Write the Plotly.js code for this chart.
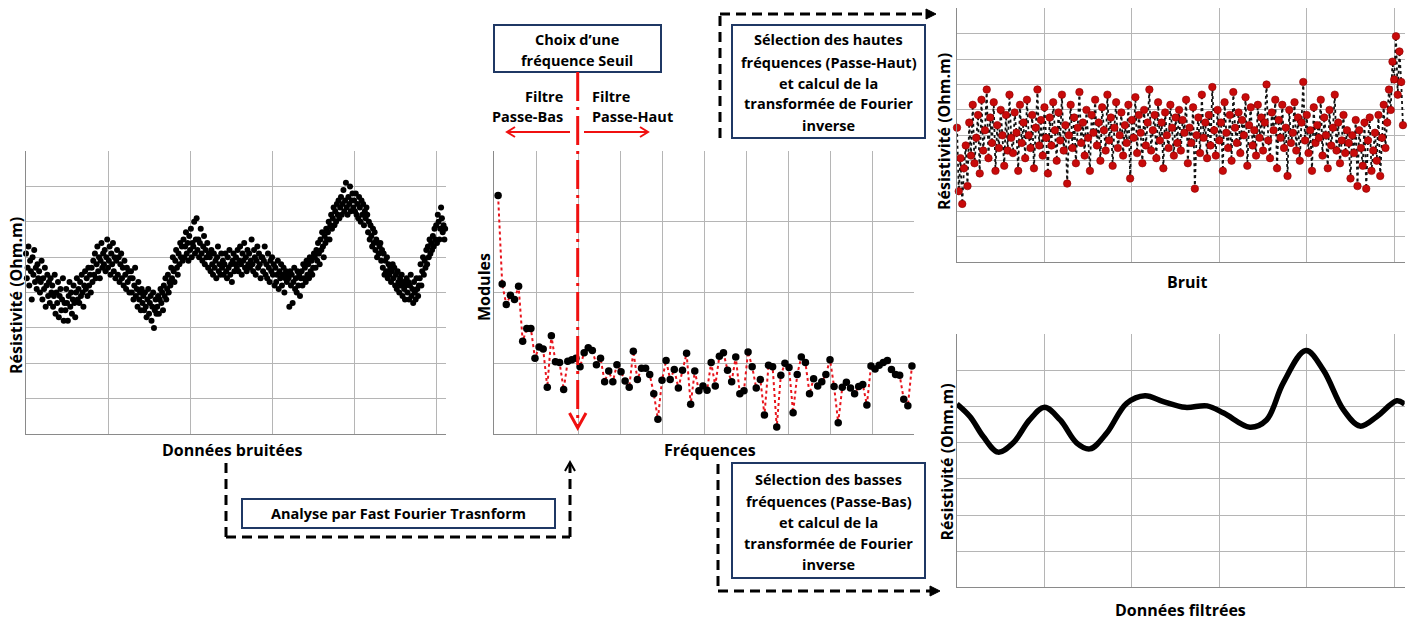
<!DOCTYPE html>
<html><head><meta charset="utf-8">
<script src="https://cdn.plot.ly/plotly-3.0.1.min.js"></script>
<style>html,body{margin:0;padding:0;background:#fff;}#chart{width:1418px;height:621px;}</style>
</head><body><div id="chart"></div>
<script>
// ---- Données bruitées (résistivité x10, index 0..511) ----
const noisyValues = [
51,44,47,53,42,49,46,38,50,45,52,43,47,41,48,44,
46,40,43,49,38,44,41,47,36,42,45,39,43,37,44,40,
42,36,39,45,34,40,37,43,33,39,41,35,38,44,32,37,
35,41,37,32,39,43,36,40,34,38,42,37,33,40,44,38,
41,37,43,39,45,40,36,42,46,41,44,39,47,42,45,40,
47,43,49,45,51,44,48,53,46,50,44,49,54,47,51,48,
52,46,50,55,47,49,53,45,51,48,54,46,50,44,49,52,
45,50,43,48,51,44,47,42,49,45,41,47,43,46,40,44,
46,40,44,38,42,47,39,41,36,43,38,40,35,41,37,39,
35,40,36,33,38,41,34,37,39,32,36,40,30,35,38,34,
36,39,34,38,41,37,40,35,42,39,44,38,41,45,40,43,
42,47,44,50,46,43,49,52,47,45,51,48,54,50,53,49,
55,50,53,57,51,54,49,56,52,58,50,54,53,60,51,55,
61,52,55,50,54,58,51,49,53,56,48,52,50,54,47,51,
50,46,52,48,45,51,47,49,44,50,53,46,48,45,51,47,
49,45,48,51,46,44,50,47,52,45,48,43,49,51,46,48,
50,47,52,46,49,53,48,45,51,49,54,47,50,46,52,48,
51,47,49,55,48,46,52,50,45,49,53,47,51,48,44,50,
50,46,49,53,45,48,44,51,47,43,49,46,50,45,48,42,
47,43,45,49,41,46,44,48,42,45,47,40,44,46,43,45,
44,36,46,42,45,37,43,47,41,44,40,46,42,45,39,44,
46,42,48,44,47,43,49,45,48,44,50,46,49,45,47,51,
50,47,52,49,54,51,48,55,52,57,53,50,56,54,58,55,
57,60,55,59,62,58,61,64,59,63,60,65,62,66,61,64,
67,62,65,69,63,66,71,64,62,67,65,70,63,66,68,64,
66,63,68,62,65,61,67,64,60,66,62,65,59,63,61,64,
62,57,60,55,59,56,53,58,54,57,52,55,50,54,51,53,
54,49,52,47,51,45,49,46,50,44,48,45,47,43,46,48,
44,47,42,45,41,46,43,40,44,42,45,39,43,41,38,42,
44,40,43,38,42,45,39,41,37,43,40,38,44,41,39,42,
44,48,42,46,50,45,49,47,52,48,53,50,55,51,54,52,
56,53,58,55,59,54,62,60,55,58,64,61,57,59,55,58
];

// ---- Modules FFT (index 1..102) ----
const moduleValues = [
3.37,2.12,1.83,1.96,1.90,2.09,1.31,1.49,1.49,1.07,1.23,1.20,0.66,1.39,1.02,1.01,0.63,1.03,1.05,1.07,
0.95,1.15,1.22,1.18,0.98,1.07,0.74,0.89,0.74,0.98,0.88,0.75,0.66,1.17,0.77,0.93,0.93,0.84,0.57,0.21,
0.76,1.04,0.77,0.91,0.65,0.90,1.14,0.42,0.89,0.61,0.68,0.62,1.01,0.68,1.10,1.15,0.90,0.74,1.09,0.57,
0.61,1.16,0.95,0.65,0.77,0.27,0.97,0.95,0.10,0.83,1.00,0.94,0.30,0.84,1.09,1.01,0.57,0.78,0.68,0.74,
0.84,1.05,0.67,0.16,0.66,0.73,0.65,0.57,0.67,0.70,0.41,0.96,0.92,0.97,1.01,1.04,0.91,0.84,0.83,0.49,
0.40,0.96
];

// ---- Bruit (passe-haut, x10, one sample every 2 units, 0..510) ----
const noiseValues = [
53,28,41,23,37,46,30,55,42,62,39,49,58,35,64,44,
52,68,41,57,47,63,36,54,45,60,50,38,58,44,66,49,
43,59,51,36,62,47,55,41,64,50,45,58,37,53,68,46,
56,42,61,49,35,57,46,63,52,40,59,48,66,44,54,31,
50,62,45,57,39,53,67,47,55,42,60,49,36,58,51,64,
46,55,40,61,52,44,66,48,57,38,53,63,45,50,59,42,
54,47,62,33,56,49,65,43,58,51,39,60,46,55,68,44,
52,58,41,63,48,55,37,59,50,45,62,53,42,57,47,60,
44,56,51,64,39,53,47,61,29,50,57,43,66,49,55,41,
58,46,69,52,42,60,48,55,36,63,51,45,58,40,67,53,
47,59,43,56,50,65,38,54,61,46,52,42,62,49,57,44,
55,70,48,41,59,52,64,37,56,49,62,45,53,34,60,47,
51,63,44,57,40,55,71,48,58,43,52,36,61,47,54,49,
64,42,57,50,37,60,46,53,66,44,55,39,48,58,43,52,
47,33,50,43,56,30,52,45,38,55,29,48,57,36,44,51,
40,58,34,49,62,45,55,68,60,79,72,89,66,83,71,54
];

// ---- Données filtrées (passe-bas) ----
const filteredX = [0,15,30,47,64,83,100,118,137,152,171,194,215,236,261,286,305,335,354,373,399,419,442,461,480,503,512];
const filteredY = [5.07,4.72,4.17,3.74,3.99,4.63,4.98,4.63,3.99,3.83,4.26,5.09,5.30,5.14,4.98,5.02,4.82,4.43,4.63,5.65,6.55,6.01,4.91,4.46,4.72,5.16,5.07];

// ---- Textes ----
const yTitle = "Résistivité (Ohm.m)";
const xTitles = ["Données bruitées", "Fréquences", "Bruit", "Données filtrées"];
const seuilLines = ["Choix d’une", "fréquence Seuil"];
const hautLines = ["Sélection des hautes", "fréquences (Passe-Haut)", "et calcul de la", "transformée de Fourier", "inverse"];
const basLines = ["Sélection des basses", "fréquences (Passe-Bas)", "et calcul de la", "transformée de Fourier", "inverse"];
const fftLabel = "Analyse par Fast Fourier Trasnform";

// ---------------------------------------------------------
const W = 1418, H = 621;
const X = p => p / W;
const Y = p => 1 - p / H;
const idx = (n, s, step) => Array.from({length: n}, (_, i) => s + i * (step || 1));
const FONT = "'Open Sans', Lato, sans-serif";
const GRID = '#b5b5b5', AXL = '#8a8a8a';

function axis(dom, range, dtick, anchor) {
  return {domain: dom, range: range, dtick: dtick, tick0: 0, anchor: anchor,
    showgrid: true, gridcolor: GRID, gridwidth: 1, zeroline: false,
    showline: true, linecolor: AXL, linewidth: 1, ticks: '', showticklabels: false,
    fixedrange: true};
}

const traces = [
  {x: idx(noisyValues.length, 0), y: noisyValues, xaxis: 'x', yaxis: 'y', type: 'scatter', mode: 'markers',
   marker: {color: '#000', size: 6}, cliponaxis: false},
  {x: idx(moduleValues.length, 1), y: moduleValues, xaxis: 'x2', yaxis: 'y2', type: 'scatter', mode: 'lines+markers',
   line: {color: '#e8141c', width: 2, dash: 'dot'}, marker: {color: '#000', size: 7.5}, cliponaxis: false},
  {x: idx(noiseValues.length, 0, 2), y: noiseValues, xaxis: 'x3', yaxis: 'y3', type: 'scatter', mode: 'lines+markers',
   line: {color: '#111', width: 1.8, dash: 'dot'}, marker: {color: '#c80a0a', size: 7.5, line: {color: '#8a0000', width: 0.6}}, cliponaxis: false},
  {x: filteredX, y: filteredY, xaxis: 'x4', yaxis: 'y4', type: 'scatter', mode: 'lines',
   line: {color: '#000', width: 5.5, shape: 'spline', smoothing: 1}, cliponaxis: false}
];

const layout = {
  width: W, height: H, margin: {l: 0, r: 0, t: 0, b: 0, pad: 0},
  paper_bgcolor: '#fff', plot_bgcolor: '#fff', showlegend: false,
  font: {family: FONT, color: '#000'},
  xaxis: axis([X(26), X(446)], [0, 512], 100, 'y'),
  yaxis: axis([Y(434), Y(151)], [0, 80], 10, 'x'),
  xaxis2: axis([X(494), X(914)], [0, 102.5], 10.25, 'y2'),
  yaxis2: axis([Y(434), Y(151)], [0, 4], 1, 'x2'),
  xaxis3: axis([X(957), X(1404.7)], [0, 512], 100, 'y3'),
  yaxis3: axis([Y(262.3), Y(8.3)], [0, 100], 10, 'x3'),
  xaxis4: axis([X(957), X(1404.7)], [0, 512], 100, 'y4'),
  yaxis4: axis([Y(587.3), Y(334.3)], [0, 7], 1, 'x4'),
  shapes: [], annotations: []
};

function line(x0, y0, x1, y1, color, width, dash) {
  layout.shapes.push({type: 'line', xref: 'paper', yref: 'paper', x0: X(x0), y0: Y(y0), x1: X(x1), y1: Y(y1),
    line: {color: color, width: width, dash: dash || 'solid'}});
}
function path(pts, color, width, fill, closed) {
  let d = pts.map((p, i) => (i ? 'L' : 'M') + X(p[0]) + ',' + Y(p[1])).join(' ') + (closed ? ' Z' : '');
  layout.shapes.push({type: 'path', xref: 'paper', yref: 'paper', path: d,
    line: {color: color, width: width}, fillcolor: fill || 'rgba(0,0,0,0)'});
}
function box(x0, y0, x1, y1) {
  layout.shapes.push({type: 'rect', xref: 'paper', yref: 'paper', x0: X(x0), y0: Y(y1), x1: X(x1), y1: Y(y0),
    line: {color: '#1f3864', width: 2}, fillcolor: '#fff'});
}
function text(t, x, y, size, anchor, angle) {
  layout.annotations.push({text: '<b>' + t + '</b>', xref: 'paper', yref: 'paper', x: X(x), y: Y(y),
    xanchor: anchor || 'center', yanchor: 'middle', showarrow: false, textangle: angle || 0,
    font: {family: FONT, size: size, color: '#000'}});
}

const DASH = '10px,6px';
// dashed connector: high-pass
line(720, 138, 720, 14, '#000', 3, DASH);
line(720, 14, 928, 14, '#000', 3, DASH);
path([[926, 9], [936, 14], [926, 19]], '#000', 1, '#000', true);
// dashed connector: low-pass
line(718, 464, 718, 591, '#000', 3, DASH);
line(718, 591, 931, 591, '#000', 3, DASH);
path([[930, 586], [940, 591], [930, 596]], '#000', 1, '#000', true);
// dashed connector: FFT analysis
line(226, 463, 226, 537, '#000', 3, DASH);
line(226, 537, 570, 537, '#000', 3, DASH);
line(570, 537, 570, 464, '#000', 3, DASH);
path([[565, 471], [570, 462], [575, 471]], '#000', 2);

// boxes
box(494, 25, 661, 72);
box(732, 25, 925, 138);
box(732, 463, 925, 578);
box(242, 499, 555, 528);

// red threshold line
line(577.7, 72, 577.7, 426, '#f01010', 3, '29px,6px,3px,6px');
path([[569.5, 413], [577.7, 428], [586, 413]], '#f01010', 3);
// red horizontal arrows
path([[570, 132], [508, 132]], '#f01010', 2);
path([[515, 127], [507, 132], [515, 137]], '#f01010', 2);
path([[584, 132], [647, 132]], '#f01010', 2);
path([[640, 127], [648, 132], [640, 137]], '#f01010', 2);

// texts
const TS = 14.5;
text(seuilLines[0], 577, 40, TS); text(seuilLines[1], 577, 61, TS);
text('Filtre', 565, 96, TS, 'right'); text('Passe-Bas', 565, 117, TS, 'right');
text('Filtre', 590, 96, TS, 'left'); text('Passe-Haut', 590, 117, TS, 'left');
const hy = [40, 62, 83, 104, 125];
hautLines.forEach((t, i) => text(t, 828.5, hy[i], TS));
const by = [479, 501, 522, 543, 564];
basLines.forEach((t, i) => text(t, 828.5, by[i], TS));
text(fftLabel, 398, 513.5, TS);

const AS = 16;
text(yTitle, 16, 296, AS, 'center', -90);
text(xTitles[0], 231.5, 450, AS);
text('Modules', 483.5, 287.5, AS, 'center', -90);
text(xTitles[1], 709.5, 450, AS);
text(yTitle, 943.5, 131.5, AS, 'center', -90);
text(xTitles[2], 1186.5, 281.5, AS);
text(yTitle, 946, 462.5, AS, 'center', -90);
text(xTitles[3], 1180, 610, AS);

Plotly.newPlot('chart', traces, layout, {staticPlot: true, displayModeBar: false});
</script>
</body></html>
